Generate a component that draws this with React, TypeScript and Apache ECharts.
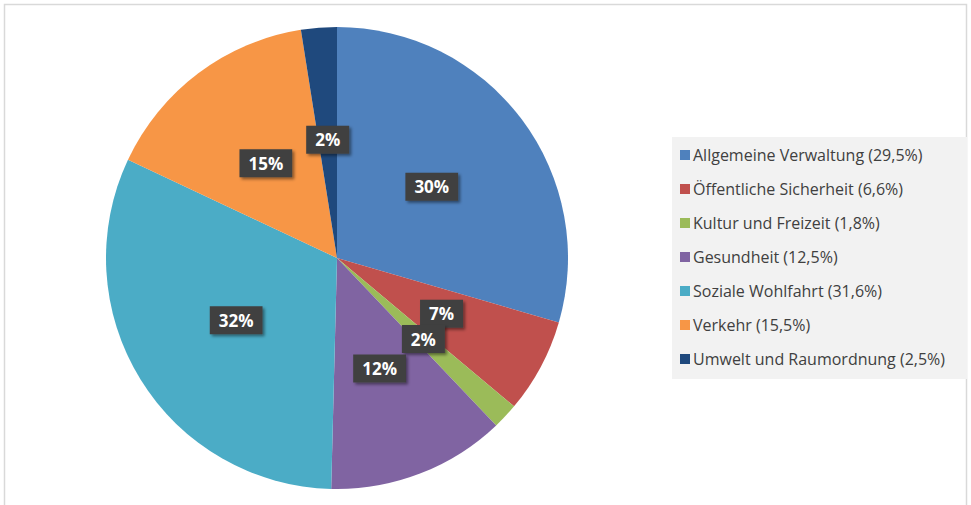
import React, { useEffect, useRef } from "react";
import * as echarts from "echarts";

const categories = [
  "Allgemeine Verwaltung (29,5%)",
  "Öffentliche Sicherheit (6,6%)",
  "Kultur und Freizeit (1,8%)",
  "Gesundheit (12,5%)",
  "Soziale Wohlfahrt (31,6%)",
  "Verkehr (15,5%)",
  "Umwelt und Raumordnung (2,5%)",
];
const values = [29.5, 6.6, 1.8, 12.5, 31.6, 15.5, 2.5];
const sliceLabels = ["30%", "7%", "2%", "12%", "32%", "15%", "2%"];
const colors = ["#4F81BD", "#C0504D", "#9BBB59", "#8064A2", "#4BACC6", "#F79646", "#1F497D"];

export default function App() {
  const ref = useRef<HTMLDivElement>(null);
  useEffect(() => {
    if (!ref.current) return;
    const chart = echarts.init(ref.current, undefined, { renderer: "svg" });
    chart.setOption({
      animation: false,
      color: colors,
      graphic: [
        {
          type: "rect",
          shape: { x: 4.5, y: 4.5, width: 962, height: 510 },
          style: { fill: "#ffffff", stroke: "#d9d9d9", lineWidth: 1.5 },
          z: -10,
        },
      ],
      legend: {
        orient: "vertical",
        left: 672,
        top: 137,
        backgroundColor: "#f2f2f2",
        padding: [10, 22, 12, 8],
        itemWidth: 10,
        itemHeight: 10,
        itemGap: 18,
        icon: "rect",
        textStyle: {
          fontFamily: "Open Sans",
          fontSize: 16,
          color: "#404040",
          padding: [0, 0, 0, -2],
        },
        data: categories,
      },
      series: [
        {
          type: "pie",
          center: [337, 258],
          radius: [0, 231],
          startAngle: 90,
          clockwise: true,
          avoidLabelOverlap: false,
          labelLayout: { hideOverlap: false, moveOverlap: null },
          labelLine: { show: false },
          emphasis: { disabled: true },
          itemStyle: { borderWidth: 0 },
          label: {
            show: true,
            position: "inside",
            formatter: (p: any) => sliceLabels[p.dataIndex],
            color: "#ffffff",
            fontFamily: "Open Sans",
            fontWeight: "bold",
            fontSize: 17,
            backgroundColor: "#404040",
            padding: [6, 9, 5, 9],
            shadowBlur: 3,
            shadowOffsetX: 2,
            shadowOffsetY: 2,
            shadowColor: "rgba(0,0,0,0.45)",
          },
          data: categories.map((name, i) => ({ name, value: values[i] })),
        },
      ],
    });
    return () => chart.dispose();
  }, []);
  return (
    <div
      ref={ref}
      style={{ position: "fixed", left: 0, top: 0, width: 971, height: 505, background: "#ffffff" }}
    />
  );
}
